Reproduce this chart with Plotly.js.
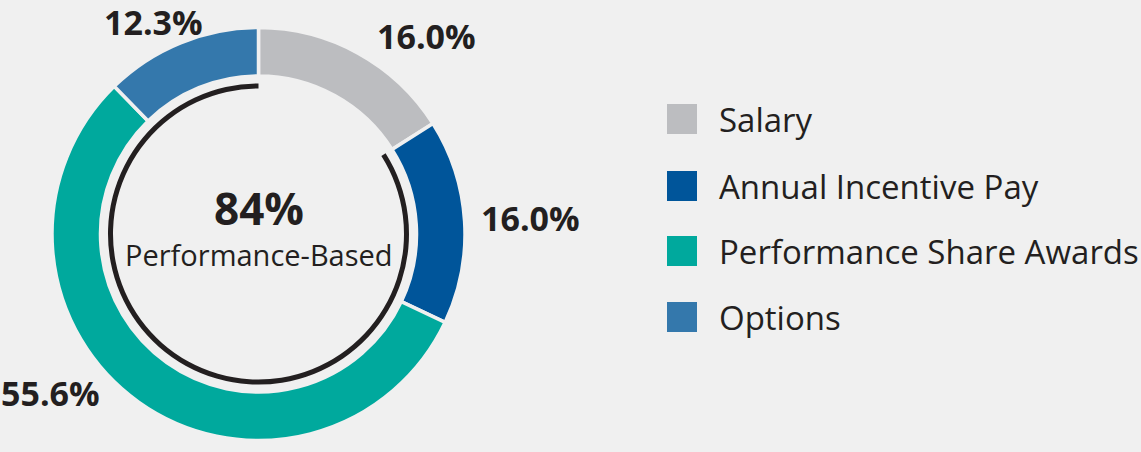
<!DOCTYPE html>
<html>
<head>
<meta charset="utf-8">
<script src="https://cdn.plot.ly/plotly-3.0.1.min.js"></script>
<style>html,body{margin:0;padding:0;background:#f0f0f0;}#chart{width:1141px;height:452px;}</style>
</head>
<body>
<div id="chart"></div>
<script>
// Data
const categories = ["Salary", "Annual Incentive Pay", "Performance Share Awards", "Options"];
const shares = [16.0, 16.0, 55.6, 12.3];
const sliceColors = ["#bcbdc0", "#00559a", "#00a99d", "#3478ac"];
const centerValue = "84%";
const centerLabel = "Performance-Based";
const perfSplit = ["Fixed", "Performance-Based"];
const perfValues = [16.0, 84.0];

const W = 1141, H = 452;
const cx = 258.5, cy = 234, rOuter = 206.5, rInner = 158;
const rArcOut = 150.5, rArcIn = 145.5;

function dom(r) {
  return {
    x: [(cx - r) / W, (cx + r) / W],
    y: [1 - (cy + r) / H, 1 - (cy - r) / H]
  };
}

const traces = [
  {
    type: "pie",
    labels: categories,
    values: shares,
    sort: false,
    direction: "clockwise",
    rotation: 0,
    hole: rInner / rOuter,
    domain: dom(rOuter),
    marker: { colors: sliceColors, line: { color: "#f0f0f0", width: 3.5 } },
    textinfo: "none",
    hoverinfo: "none",
    showlegend: false
  },
  {
    type: "pie",
    labels: perfSplit,
    values: perfValues,
    sort: false,
    direction: "clockwise",
    rotation: 0,
    hole: rArcIn / rArcOut,
    domain: dom(rArcOut),
    marker: { colors: ["rgba(0,0,0,0)", "#231f20"], line: { width: 0 } },
    textinfo: "none",
    hoverinfo: "none",
    showlegend: false
  }
];

const FONT = "'Open Sans', Lato, sans-serif";
const pctPos = [[426, 36], [530, 218], [51, 393], [153, 22]];
const annotations = shares.map((v, i) => ({
  xref: "paper", yref: "paper",
  x: pctPos[i][0] / W, y: 1 - pctPos[i][1] / H,
  xanchor: "center", yanchor: "middle",
  text: "<b>" + v.toFixed(1) + "%</b>",
  showarrow: false,
  font: { family: FONT, size: 34, color: "#231f20" }
}));

annotations.push({
  xref: "paper", yref: "paper", x: cx / W, y: 1 - 208 / H,
  xanchor: "center", yanchor: "middle",
  text: "<b>" + centerValue + "</b>", showarrow: false,
  font: { family: FONT, size: 44, color: "#231f20" }
});
annotations.push({
  xref: "paper", yref: "paper", x: cx / W, y: 1 - 254 / H,
  xanchor: "center", yanchor: "middle",
  text: centerLabel, showarrow: false,
  font: { family: FONT, size: 29, color: "#231f20" }
});

const legendY = [119, 186, 251, 317];
const shapes = [];
categories.forEach((c, i) => {
  shapes.push({
    type: "rect", xref: "paper", yref: "paper",
    x0: 667 / W, x1: 697 / W,
    y0: 1 - (legendY[i] + 15) / H, y1: 1 - (legendY[i] - 15) / H,
    fillcolor: sliceColors[i], line: { width: 0 }
  });
  annotations.push({
    xref: "paper", yref: "paper", x: 717 / W, y: 1 - legendY[i] / H,
    xanchor: "left", yanchor: "middle",
    text: c, showarrow: false,
    font: { family: FONT, size: 33, color: "#231f20" }
  });
});

const layout = {
  width: W, height: H,
  margin: { l: 0, r: 0, t: 0, b: 0 },
  paper_bgcolor: "#f0f0f0",
  plot_bgcolor: "#f0f0f0",
  showlegend: false,
  annotations: annotations,
  shapes: shapes
};

Plotly.newPlot("chart", traces, layout, { displayModeBar: false, staticPlot: true });
</script>
</body>
</html>
